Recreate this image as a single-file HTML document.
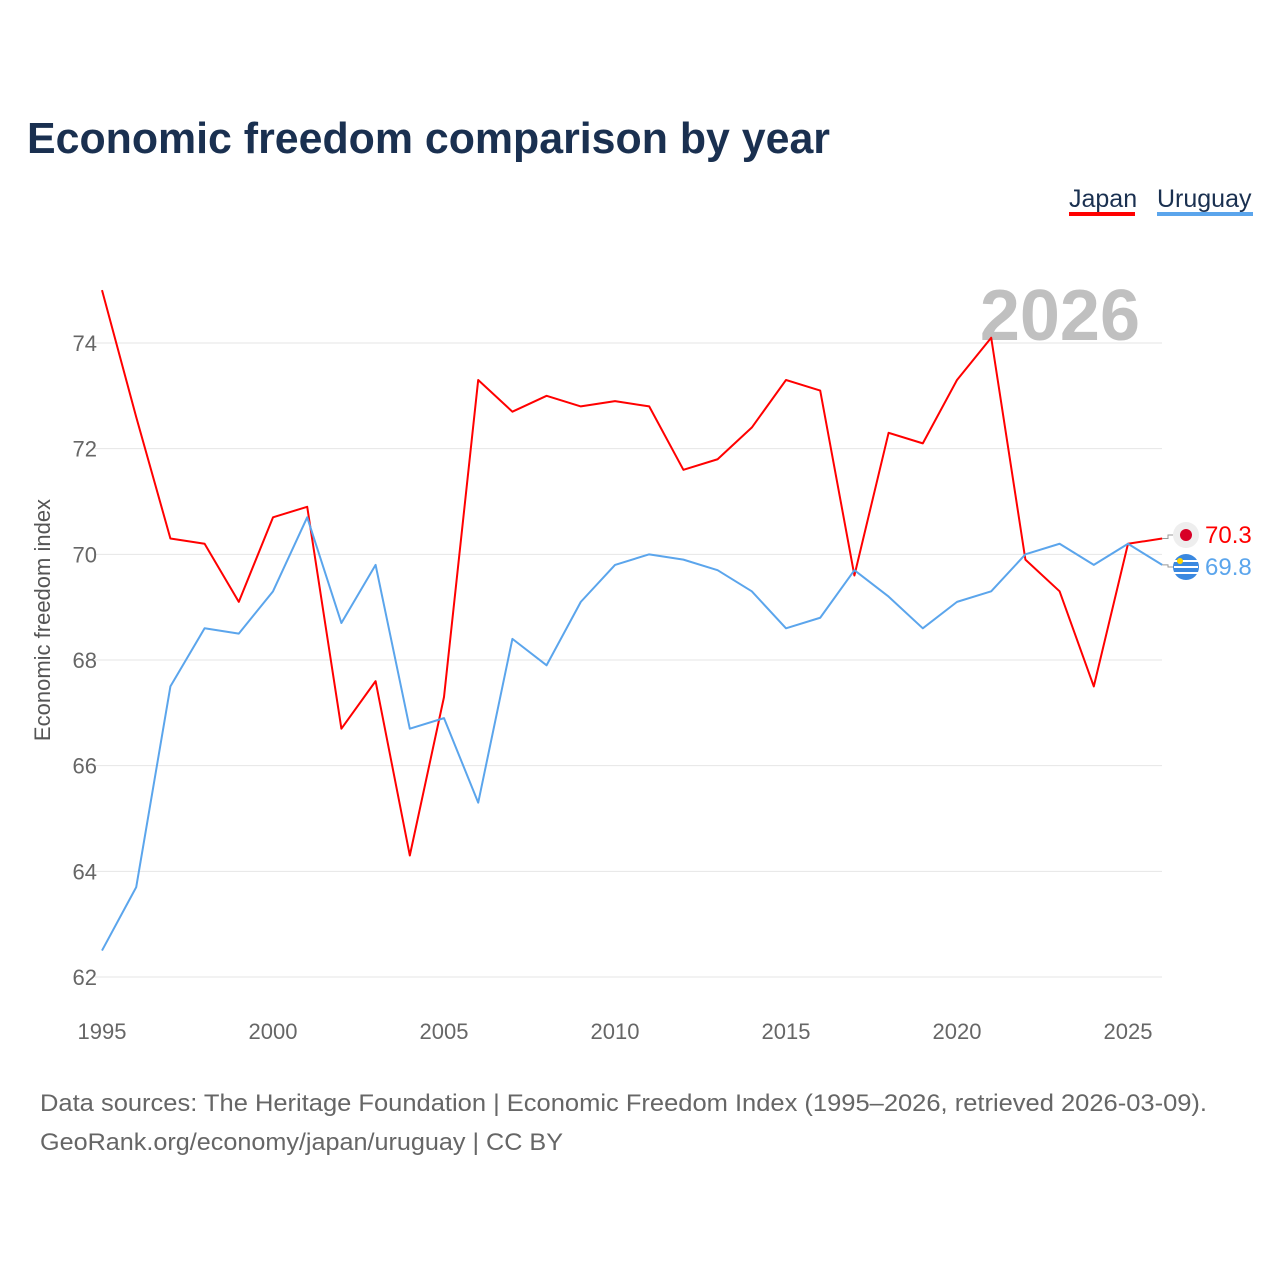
<!DOCTYPE html>
<html><head><meta charset="utf-8"><style>
body{margin:0;background:#fff;font-family:"Liberation Sans",sans-serif}
svg text{font-family:"Liberation Sans",sans-serif}
</style></head><body>
<svg id="chart" width="1280" height="1280" viewBox="0 0 1280 1280" xmlns="http://www.w3.org/2000/svg">
<text x="27" y="153" font-size="44" font-weight="bold" fill="#1a3050" textLength="803" lengthAdjust="spacingAndGlyphs">Economic freedom comparison by year</text>
<g>
<text x="1069" y="207" font-size="25" fill="#1a3050">Japan</text>
<rect x="1069" y="212" width="66" height="4" fill="#ff0000"/>
<text x="1157" y="207" font-size="25" fill="#1a3050">Uruguay</text>
<rect x="1157" y="212" width="96" height="4" fill="#5ba5ec"/>
</g>
<text x="1140" y="340" font-size="72" font-weight="bold" fill="#c0c0c0" text-anchor="end">2026</text>
<text transform="translate(50,620) rotate(-90)" font-size="22" fill="#555" text-anchor="middle">Economic freedom index</text>
<g id="grid"></g><g id="xt"></g><g id="lines"></g>
<text x="40" y="1111" font-size="24" fill="#666" textLength="1167" lengthAdjust="spacingAndGlyphs">Data sources: The Heritage Foundation | Economic Freedom Index (1995–2026, retrieved 2026-03-09).</text>
<text x="40" y="1150" font-size="24" fill="#666" textLength="523" lengthAdjust="spacingAndGlyphs">GeoRank.org/economy/japan/uruguay | CC BY</text>
</svg>
<script>
const years=[1995,1996,1997,1998,1999,2000,2001,2002,2003,2004,2005,2006,2007,2008,2009,2010,2011,2012,2013,2014,2015,2016,2017,2018,2019,2020,2021,2022,2023,2024,2025,2026];
const japan=[75.0,72.6,70.3,70.2,69.1,70.7,70.9,66.7,67.6,64.3,67.3,73.3,72.7,73.0,72.8,72.9,72.8,71.6,71.8,72.4,73.3,73.1,69.6,72.3,72.1,73.3,74.1,69.9,69.3,67.5,70.2,70.3];
const uruguay=[62.5,63.7,67.5,68.6,68.5,69.3,70.7,68.7,69.8,66.7,66.9,65.3,68.4,67.9,69.1,69.8,70.0,69.9,69.7,69.3,68.6,68.8,69.7,69.2,68.6,69.1,69.3,70.0,70.2,69.8,70.2,69.8];
const yTicks=[62,64,66,68,70,72,74];
const xTicks=[1995,2000,2005,2010,2015,2020,2025];
const NS="http://www.w3.org/2000/svg";
const x=v=>102+(v-1995)*(1128-102)/30;
const y=v=>977-(v-62)*(977-343)/12;
function mk(t,a,p){const e=document.createElementNS(NS,t);for(const k in a)e.setAttribute(k,a[k]);p.appendChild(e);return e;}
const g=document.getElementById('grid');
yTicks.forEach(v=>{
 const l=mk('line',{x1:95,x2:1162,y1:y(v),y2:y(v),stroke:'#e6e6e6','stroke-width':1},g);
 
 
 const t=mk('text',{x:97,y:y(v)+8,'font-size':22,fill:'#666','text-anchor':'end'},g);t.textContent=v;
 
 
});
const xt=document.getElementById('xt');
xTicks.forEach(v=>{
 const t=mk('text',{x:x(v),y:1039,'font-size':22,fill:'#666','text-anchor':'middle'},xt);t.textContent=v;
 
 
});
const L=document.getElementById('lines');
function series(d,c,name,ly){
 const p=mk('polyline',{points:d.map((v,i)=>x(years[i])+','+y(v)).join(' '),fill:'none',stroke:c,'stroke-width':2,'stroke-linejoin':'round'},L);
 
 
 const lx=x(years[years.length-1]),lv=d[d.length-1];
 const c1=mk('circle',{cx:1186,cy:ly,r:13,fill:'#eee'},L);
 
 
 const ln=mk('polyline',{points:lx+','+y(lv)+' 1168,'+y(lv)+' 1168,'+ly+' 1173,'+ly,fill:'none',stroke:'#999','stroke-width':1},L);
 
 
 const t=mk('text',{x:1205,y:ly+8,'font-size':24,fill:c},L);t.textContent=lv.toFixed(1);
 
 
 return c1;
}
series(japan,'#ff0000','japan',535);
mk('circle',{cx:1186,cy:535,r:6,fill:'#d80027'},L);
const uf=series(uruguay,'#5ba5ec','uruguay',567);
uf.setAttribute('fill','#3a88e0');
[561,567,573].forEach(yy=>mk('rect',{x:1174,y:yy-1,width:24,height:2,fill:'#fff'},L));
mk('circle',{cx:1180,cy:561,r:3,fill:'#ffd500'},L);
</script>
</body></html>
